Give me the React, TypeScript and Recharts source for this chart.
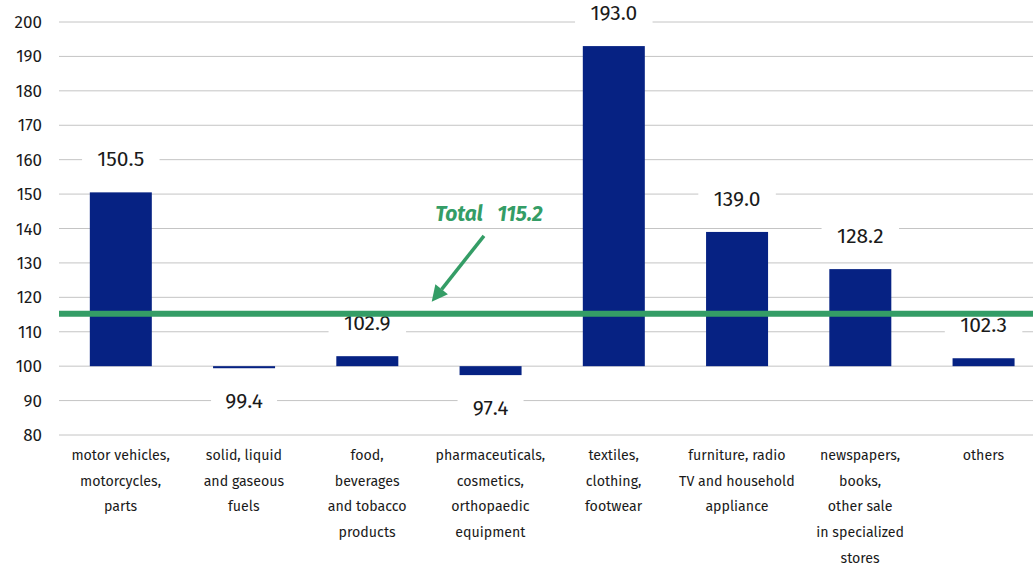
import React from 'react';
import { BarChart, Bar, XAxis, YAxis, CartesianGrid, ReferenceLine } from 'recharts';

const categories = ['motor vehicles', 'fuels', 'food', 'pharma', 'textiles', 'furniture', 'newspapers', 'others'];
const categoryLines = [
  ['motor vehicles,', 'motorcycles,', 'parts'],
  ['solid, liquid', 'and gaseous', 'fuels'],
  ['food,', 'beverages', 'and tobacco', 'products'],
  ['pharmaceuticals,', 'cosmetics,', 'orthopaedic', 'equipment'],
  ['textiles,', 'clothing,', 'footwear'],
  ['furniture, radio', 'TV and household', 'appliance'],
  ['newspapers,', 'books,', 'other sale', 'in specialized', 'stores'],
  ['others'],
];
const values = [150.5, 99.4, 102.9, 97.4, 193.0, 139.0, 128.2, 102.3];
const yTicks = [80, 90, 100, 110, 120, 130, 140, 150, 160, 170, 180, 190, 200];
const baseline = 100;
const total = 115.2;

const FONT = '"Fira Sans", "Noto Sans", "Open Sans", sans-serif';
const BAR_COLOR = '#062283';
const GREEN = '#349d66';

const data = categories.map((c, i) => ({ name: c, value: values[i] }));

const BarWithLabel = (props: any) => {
  const { x, y, width, height, index } = props;
  const v = values[index];
  const up = v >= baseline;
  const cx = x + width / 2;
  const ly = up ? y - 33 : y + height + 33;
  const label = v.toFixed(1);
  const bw = label.length * 11.5 + 20;
  return (
    <g>
      <rect x={x} y={y} width={width} height={Math.max(height, 1)} fill={BAR_COLOR} />
      <rect x={cx - bw / 2} y={ly - 13} width={bw} height={26} fill="#fff" />
      <text x={cx} y={ly} textAnchor="middle" dominantBaseline="central" fontSize={21} fill="#1a1a1a" fontFamily={FONT}>
        {label}
      </text>
    </g>
  );
};

const CategoryTick = (props: any) => {
  const { x, y, payload } = props;
  const lines = categoryLines[payload.index] || [];
  return (
    <text x={x} y={y} textAnchor="middle" fontSize={14.2} fill="#1a1a1a" fontFamily={FONT}>
      {lines.map((l, i) => (
        <tspan key={i} x={x} dy={i === 0 ? 17 : 25.7}>{l}</tspan>
      ))}
    </text>
  );
};

const TotalLabel = (props: any) => {
  const { viewBox } = props;
  const { x, y, width } = viewBox;
  const tipX = x + width * 0.378;
  const tipY = y - 12;
  const tailX = x + width * 0.431;
  const tailY = y - 78;
  const ang = Math.atan2(tipY - tailY, tipX - tailX);
  const hl = 16;
  const hw = 8;
  const bx = tipX - hl * Math.cos(ang);
  const by = tipY - hl * Math.sin(ang);
  const px = -Math.sin(ang) * hw;
  const py = Math.cos(ang) * hw;
  return (
    <g>
      <line x1={tailX} y1={tailY} x2={bx} y2={by} stroke={GREEN} strokeWidth={3.5} />
      <polygon points={`${tipX},${tipY} ${bx + px},${by + py} ${bx - px},${by - py}`} fill={GREEN} />
      <text x={tailX + 5} y={y - 100} textAnchor="middle" dominantBaseline="central" fontSize={21} fontWeight="bold" fontStyle="italic" fill={GREEN} fontFamily={FONT}>
        Total&#160;&#160;&#160;{total.toFixed(1)}
      </text>
    </g>
  );
};

export default function App() {
  return (
    <div style={{ position: 'absolute', left: 0, top: 0, width: 1033, height: 563, overflow: 'hidden', background: '#fff' }}>
      <BarChart width={1045} height={563} data={data} margin={{ top: 22, right: 0, left: 0, bottom: 0 }} barCategoryGap="25%">
        <CartesianGrid vertical={false} stroke="#c4c4c4" strokeWidth={1} />
        <XAxis
          dataKey="name"
          axisLine={false}
          tickLine={false}
          height={128}
          interval={0}
          tick={<CategoryTick />}
        />
        <YAxis
          domain={[80, 200]}
          ticks={yTicks}
          width={59}
          axisLine={false}
          tickLine={false}
          tickMargin={11}
          tick={{ fontSize: 17, fill: '#1a1a1a', fontFamily: FONT }}
        />
        <Bar
          dataKey={(d: any) => [Math.min(baseline, d.value), Math.max(baseline, d.value)]}
          fill={BAR_COLOR}
          isAnimationActive={false}
          shape={<BarWithLabel />}
        />
        <ReferenceLine y={total} stroke={GREEN} strokeWidth={6} label={<TotalLabel />} />
      </BarChart>
    </div>
  );
}
